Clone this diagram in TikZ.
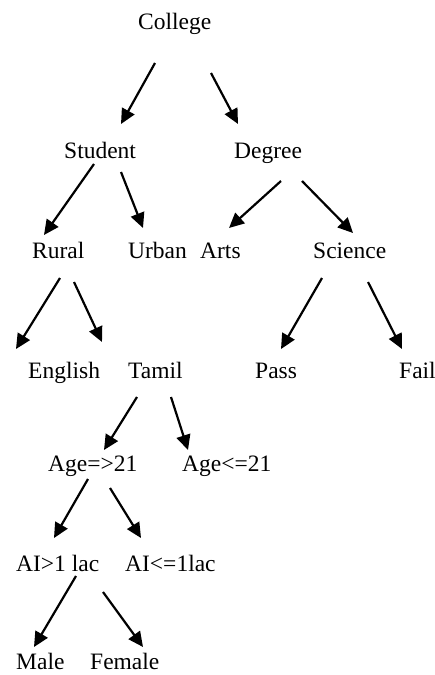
\documentclass[tikz,border=0pt]{standalone}
\usepackage{fontspec}
\setmainfont{Liberation Serif}
\usetikzlibrary{arrows.meta}
\tikzset{
  lbl/.style={anchor=base west, inner sep=0pt, font=\fontsize{23.5}{28}\selectfont},
  arr/.style={line width=2.2pt, -{Triangle[length=15pt,width=14pt]}}
}
\begin{document}
\begin{tikzpicture}[x=1pt,y=-1pt]
\useasboundingbox (0,0) rectangle (435,675);
% labels
\node[lbl] (college) at (138,29) {College};
\node[lbl] (student) at (64,158) {Student};
\node[lbl] (degree) at (234,158) {Degree};
\node[lbl] (rural) at (32,258) {Rural};
\node[lbl] (urban) at (128,258) {Urban};
\node[lbl] (arts) at (200,258) {Arts};
\node[lbl] (science) at (313,258) {Science};
\node[lbl] (english) at (28,378) {English};
\node[lbl] (tamil) at (128,378) {Tamil};
\node[lbl] (pass) at (255,378) {Pass};
\node[lbl] (fail) at (399,378) {Fail};
\node[lbl] (agege) at (48,471) {Age=>21};
\node[lbl] (agele) at (182,471) {Age<=21};
\node[lbl] (aigt) at (16,571) {AI>1 lac};
\node[lbl] (aile) at (125,571) {AI<=1lac};
\node[lbl] (male) at (16,669) {Male};
\node[lbl] (female) at (90,669) {Female};
% connector end points
\coordinate (cs1) at (155,63);  \coordinate (cs2) at (121,124);
\coordinate (cd1) at (211,73);  \coordinate (cd2) at (238,124);
\coordinate (sr1) at (94,164);  \coordinate (sr2) at (44,235);
\coordinate (su1) at (121,172); \coordinate (su2) at (143,228);
\coordinate (da1) at (281,181); \coordinate (da2) at (229,228);
\coordinate (ds1) at (302,181); \coordinate (ds2) at (353,233);
\coordinate (re1) at (60,278);  \coordinate (re2) at (16,349);
\coordinate (rt1) at (74,282);  \coordinate (rt2) at (102,342);
\coordinate (sp1) at (322,278); \coordinate (sp2) at (281,349);
\coordinate (sf1) at (368,282); \coordinate (sf2) at (402,349);
\coordinate (tg1) at (137,397); \coordinate (tg2) at (104,450);
\coordinate (tl1) at (171,397); \coordinate (tl2) at (188,450);
\coordinate (ag1) at (88,479);  \coordinate (ag2) at (54,538);
\coordinate (al1) at (110,488); \coordinate (al2) at (141,538);
\coordinate (am1) at (76,576);  \coordinate (am2) at (34,647);
\coordinate (af1) at (103,592); \coordinate (af2) at (143,647);
% connectors
\draw[arr] (cs1) -- (cs2);
\draw[arr] (cd1) -- (cd2);
\draw[arr] (sr1) -- (sr2);
\draw[arr] (su1) -- (su2);
\draw[arr] (da1) -- (da2);
\draw[arr] (ds1) -- (ds2);
\draw[arr] (re1) -- (re2);
\draw[arr] (rt1) -- (rt2);
\draw[arr] (sp1) -- (sp2);
\draw[arr] (sf1) -- (sf2);
\draw[arr] (tg1) -- (tg2);
\draw[arr] (tl1) -- (tl2);
\draw[arr] (ag1) -- (ag2);
\draw[arr] (al1) -- (al2);
\draw[arr] (am1) -- (am2);
\draw[arr] (af1) -- (af2);
\end{tikzpicture}
\end{document}
